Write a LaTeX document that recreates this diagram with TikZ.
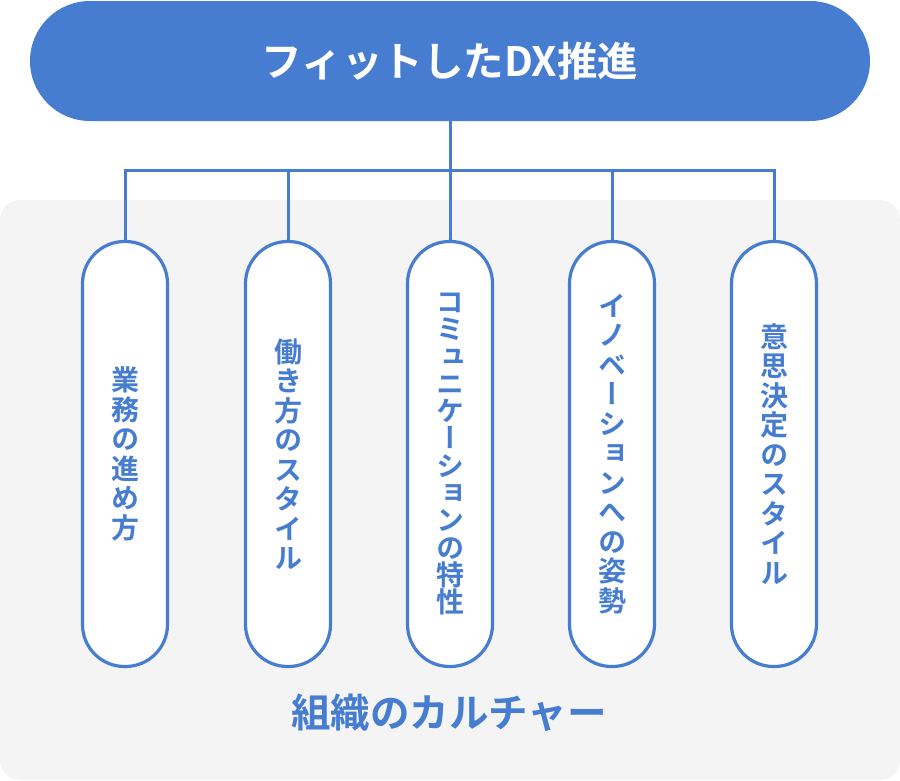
\documentclass[tikz,border=0pt]{standalone}
\usepackage{fontspec}
\newfontfamily\jpb{Noto Sans CJK JP Bold}[RawFeature=+vert]
\newfontfamily\jph{Noto Sans CJK JP Bold}
\definecolor{mainblue}{HTML}{477DD0}
\definecolor{bggray}{HTML}{F4F4F4}
\begin{document}
\begin{tikzpicture}[x=1pt,y=-1pt,
  conn/.style={draw=mainblue,line width=3pt},
  toppill/.style={fill=mainblue,rounded corners=60pt,minimum width=840pt,minimum height=120pt,inner sep=0pt,
    text=white,font={\jph\fontsize{40.5}{44}\selectfont}},
  pill/.style={draw=mainblue,fill=white,line width=3.2pt,rounded corners=42pt,minimum width=85pt,minimum height=425pt,inner sep=0pt,
    text=mainblue,align=center},
  vt/.style={font={\jpb\fontsize{28}{#1}\selectfont}},
  culture/.style={text=mainblue,font={\jph\fontsize{39.5}{44}\selectfont},inner sep=0pt}]
\useasboundingbox (0,0) rectangle (900,780);
\fill[bggray,rounded corners=20pt] (0,200) rectangle (900,780);
\node[toppill] (top) at (450,61) {フィットしたDX推進};
\coordinate (bar) at (450,170);
\node[pill,vt=29.5] (p1) at (125,454) {業\\務\\の\\進\\め\\方};
\node[pill,vt=29.5] (p2) at (288,454) {働\\き\\方\\の\\ス\\タ\\イ\\ル};
\node[pill,vt=27.3] (p3) at (450,454) {コ\\ミ\\ュ\\ニ\\ケ\\ー\\シ\\ョ\\ン\\の\\特\\性};
\node[pill,vt=29.5] (p4) at (612,454) {イ\\ノ\\ベ\\ー\\シ\\ョ\\ン\\へ\\の\\姿\\勢};
\node[pill,vt=29.5] (p5) at (774,454) {意\\思\\決\\定\\の\\ス\\タ\\イ\\ル};
\draw[conn] (top.south) -- (bar);
\draw[conn] (p1.north) -- (p1.north |- bar) -- (p5.north |- bar) -- (p5.north);
\foreach \i in {2,3,4} \draw[conn] (p\i.north) -- (p\i.north |- bar);
\node[culture] (cult) at (449,713) {組織のカルチャー};
\end{tikzpicture}
\end{document}
